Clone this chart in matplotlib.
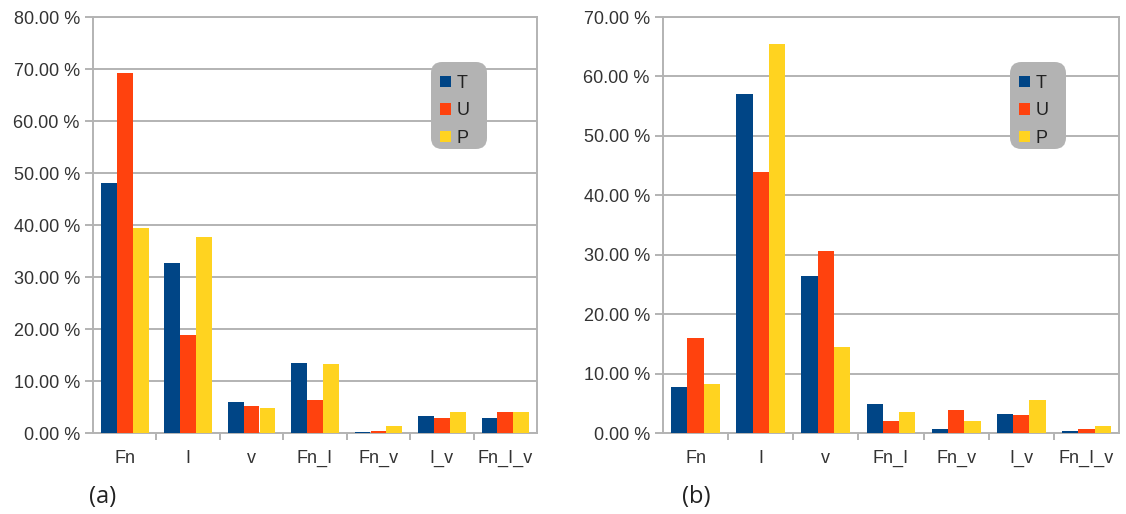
import matplotlib
matplotlib.use("Agg")
import matplotlib.pyplot as plt
import numpy as np
from matplotlib.patches import Patch, FancyBboxPatch
from matplotlib.ticker import FuncFormatter, FixedLocator

categories = ["Fn", "I", "v", "Fn_I", "Fn_v", "I_v", "Fn_I_v"]
series_names = ["T", "U", "P"]
colors = ["#004586", "#ff420e", "#ffd320"]

# Panel (a)
a_T = [48.0, 32.7, 5.9, 13.5, 0.2, 3.2, 2.9]
a_U = [69.2, 18.9, 5.1, 6.4, 0.45, 2.9, 4.0]
a_P = [39.5, 37.7, 4.8, 13.2, 1.3, 4.0, 4.0]

# Panel (b)
b_T = [7.7, 57.1, 26.5, 4.9, 0.6, 3.2, 0.4]
b_U = [16.0, 44.0, 30.6, 2.0, 3.9, 3.0, 0.6]
b_P = [8.2, 65.5, 14.4, 3.6, 2.0, 5.6, 1.1]

a_ymax, a_step = 80, 10
b_ymax, b_step = 70, 10

GRID = "#b3b3b3"
TXT = "#333333"
FONT = "Liberation Sans"

fig = plt.figure(figsize=(11.26, 5.14), dpi=100)
W, H = 1126, 514

def make_ax(x0, x1, ytop, ybot):
    return fig.add_axes([x0 / W, 1 - ybot / H, (x1 - x0) / W, (ybot - ytop) / H])

AX_A = (93, 537, 17, 433)
AX_B = (663, 1119, 17, 433)
ax_a = make_ax(*AX_A)
ax_b = make_ax(*AX_B)

def draw(ax, box, data, ymax, step, tag, tag_x, leg_x):
    x0, x1, ytop, ybot = box
    def ax_frac(px, py):
        return ((px - x0) / (x1 - x0), (ybot - py) / (ybot - ytop))
    x = np.arange(len(categories))
    bw = 0.25
    for i, (vals, c) in enumerate(zip(data, colors)):
        ax.bar(x + (i - 1) * bw, vals, width=bw, color=c, zorder=3, linewidth=0)
    ax.set_xlim(-0.5, len(categories) - 0.5)
    ax.set_ylim(0, ymax)
    ax.set_yticks(np.arange(0, ymax + 0.1, step))
    ax.yaxis.set_major_formatter(FuncFormatter(lambda v, p: f"{v:.2f} %"))
    ax.grid(axis="y", color=GRID, linewidth=1.4, zorder=0)
    ax.set_axisbelow(True)
    for s in ax.spines.values():
        s.set_color(GRID)
        s.set_linewidth(1.4)
    ax.set_xticks(x)
    ax.set_xticklabels(categories)
    ax.xaxis.set_minor_locator(FixedLocator(np.arange(0.5, len(categories) - 0.5, 1.0)))
    ax.tick_params(axis="x", which="major", length=0, pad=12, labelsize=13, labelcolor=TXT)
    ax.tick_params(axis="x", which="minor", length=5, width=1.4, color=GRID, direction="out")
    ax.tick_params(axis="y", which="major", length=6, width=1.4, color=GRID, pad=3.5,
                   labelsize=13, labelcolor=TXT)
    for lab in ax.get_xticklabels() + ax.get_yticklabels():
        lab.set_fontfamily(FONT)
    # legend background (rounded grey box)
    bx0, by0 = ax_frac(leg_x, 149)
    bx1, by1 = ax_frac(leg_x + 56, 62)
    bg = FancyBboxPatch((bx0, by0), bx1 - bx0, by1 - by0, transform=ax.transAxes,
                        boxstyle="round,pad=0,rounding_size=0.025", facecolor="#b3b3b3",
                        edgecolor="none", zorder=4, clip_on=False,
                        mutation_aspect=(x1 - x0) / (ybot - ytop))
    ax.add_patch(bg)
    handles = [Patch(facecolor=c, edgecolor="none", label=n) for c, n in zip(colors, series_names)]
    lx, ly = ax_frac(leg_x + 9, 75)
    leg = ax.legend(handles=handles, loc="upper left", bbox_to_anchor=(lx, ly),
                    borderaxespad=0, frameon=False, handlelength=0.6, handleheight=0.6,
                    handletextpad=0.3, labelspacing=0.58, borderpad=0,
                    prop={"family": FONT, "size": 13})
    for t in leg.get_texts():
        t.set_color("#222222")
    leg.set_zorder(5)
    fig.text(tag_x / W, 1 - 497 / H, tag, ha="center", va="center",
             fontsize=17, family="Open Sans", color="#222222")

draw(ax_a, AX_A, [a_T, a_U, a_P], a_ymax, a_step, "(a)", 103, 431)
draw(ax_b, AX_B, [b_T, b_U, b_P], b_ymax, b_step, "(b)", 696, 1010)

fig.savefig("out.png", dpi=100, facecolor="white")
